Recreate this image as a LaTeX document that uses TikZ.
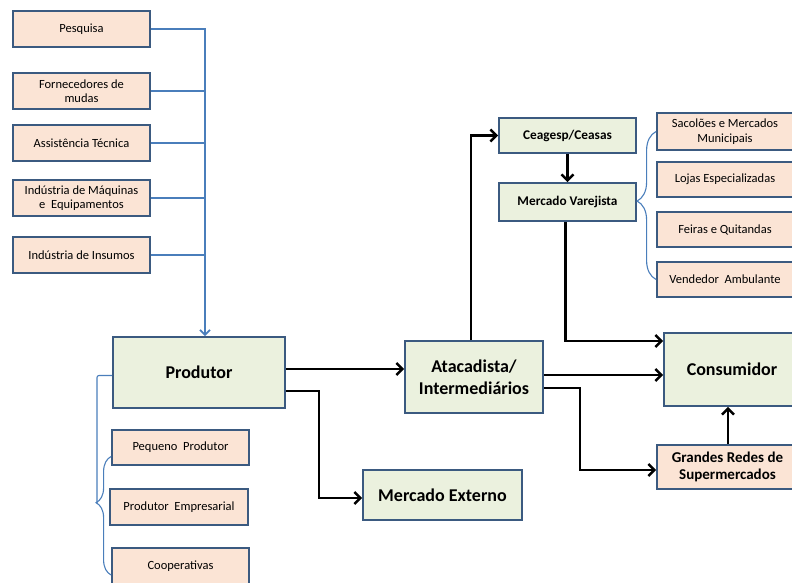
\documentclass[tikz,border=0pt]{standalone}
\usepackage{fontspec}
\setmainfont{Carlito}
\usepackage{xcolor}
\usepackage{tikz}
\usetikzlibrary{arrows.meta,decorations.pathreplacing}

\definecolor{peachfill}{HTML}{FBE4D5}
\definecolor{greenfill}{HTML}{EBF1DE}
\definecolor{boxline}{HTML}{3B5A80}
\definecolor{feedblue}{HTML}{4A7EBB}

\tikzset{
  peach/.style={draw=boxline, line width=1.8pt, fill=peachfill, align=center,
    inner sep=0pt, font=\fontsize{12.5}{14.5}\selectfont},
  greenbox/.style={draw=boxline, line width=1.8pt, fill=greenfill, align=center,
    inner sep=0pt, font=\bfseries\fontsize{18}{21.5}\selectfont},
  smallgreen/.style={greenbox, font=\bfseries\fontsize{13.3}{16}\selectfont},
  flow/.style={line width=2.4pt, -{Straight Barb[length=6pt,width=12pt]}},
  feed/.style={feedblue, line width=1.7pt},
  feedthin/.style={feedblue, line width=1.1pt},
}

\begin{document}
\begin{tikzpicture}[x=1pt, y=-1pt]

    % Page
    \useasboundingbox (0, 0) rectangle (792, 583);

    % Suppliers
    \node[peach, minimum width=137, minimum height=36] (pesq) at (81.5, 29) {Pesquisa};
    \node[peach, minimum width=137, minimum height=36] (forn) at (81.5, 91) {Fornecedores de\\mudas};
    \node[peach, minimum width=137, minimum height=36] (assist) at (81.5, 143) {Assistência Técnica};
    \node[peach, minimum width=137, minimum height=36] (maq) at (81.5, 198) {Indústria de Máquinas\\e\ \ Equipamentos};
    \node[peach, minimum width=137, minimum height=36] (insumos) at (81.5, 255) {Indústria de Insumos};

    % Producer
    \node[greenbox, minimum width=172, minimum height=71] (prod) at (199, 372.5) {Produtor};
    \node[peach, minimum width=137, minimum height=35] (pequeno) at (180.5, 447.5) {Pequeno\ \ Produtor};
    \node[peach, minimum width=138, minimum height=36] (empres) at (179, 507) {Produtor\ \ Empresarial};
    \node[peach, minimum width=137, minimum height=36] (coop) at (180.5, 566) {Cooperativas};

    % Wholesale
    \node[greenbox, minimum width=138, minimum height=72] (atac) at (474, 377) {Atacadista/\\Intermediários};
    \node[greenbox, minimum width=159, minimum height=50] (mext) at (442.5, 495) {Mercado Externo};
    \node[smallgreen, minimum width=137, minimum height=35] (ceag) at (567.5, 135.5) {Ceagesp/Ceasas};
    \node[smallgreen, minimum width=137, minimum height=38] (varej) at (567.5, 202) {Mercado Varejista};

    % Retail
    \node[peach, minimum width=136, minimum height=37] (sacol) at (725, 131.5) {Sacolões e Mercados\\Municipais};
    \node[peach, minimum width=136, minimum height=35] (lojas) at (725, 179.5) {Lojas Especializadas};
    \node[peach, minimum width=136, minimum height=35] (feiras) at (725, 229.5) {Feiras e Quitandas};
    \node[peach, minimum width=136, minimum height=35] (vended) at (725, 279.5) {Vendedor\ \ Ambulante};

    % Consumer
    \node[greenbox, minimum width=136, minimum height=73] (cons) at (732, 369.5) {Consumidor};
    \node[peach, minimum width=141, minimum height=44, font=\bfseries\fontsize{15}{17.5}\selectfont] (grandes) at (727.5, 467) {Grandes Redes de\\Supermercados};

    % Supplier bus
    \coordinate (bus) at (205, 29);
    \draw[feed, -{Straight Barb[length=5pt,width=10pt]}] (pesq.east) -- (bus) -- (bus |- prod.north);
    \foreach \n in {forn, assist, maq, insumos}
        \draw[feed] (\n.east) -- (\n.east -| bus);

    % Braces
    \coordinate (brtip) at (97, 503);
    \draw[feedthin, rounded corners=2pt] ([yshift=-3pt]prod.west) -| (brtip);
    \draw[feedthin, decorate, decoration={brace, amplitude=15pt, aspect=0.61}]
        ([yshift=-9pt]coop.west) -- ([yshift=-9pt]pequeno.west);
    \draw[feedthin, decorate, decoration={brace, amplitude=19pt, aspect=0.53}]
        (vended.west) -- (sacol.west);

    % Flows
    \draw[flow] ([yshift=3.5pt]prod.east) -- ([yshift=3.5pt]prod.east -| atac.west);
    \draw[flow] ([yshift=-18.5pt]prod.east) -- ++(33, 0) |- ([yshift=-3pt]mext.west);
    \draw[flow] ([xshift=-3pt]atac.north) |- (ceag.west);
    \draw[flow] (ceag.south) -- (varej.north);
    \draw[flow] ([xshift=-2pt]varej.south) |- ([yshift=28.5pt]cons.west);
    \draw[flow] ([yshift=2pt]atac.east) -- ([yshift=2pt]atac.east -| cons.west);
    \draw[flow] ([yshift=-11pt]atac.east) -- ++(36, 0) |- ([yshift=-3pt]grandes.west);
    \draw[flow] (grandes.north -| 728, 0) -- (cons.south -| 728, 0);

\end{tikzpicture}
\end{document}
